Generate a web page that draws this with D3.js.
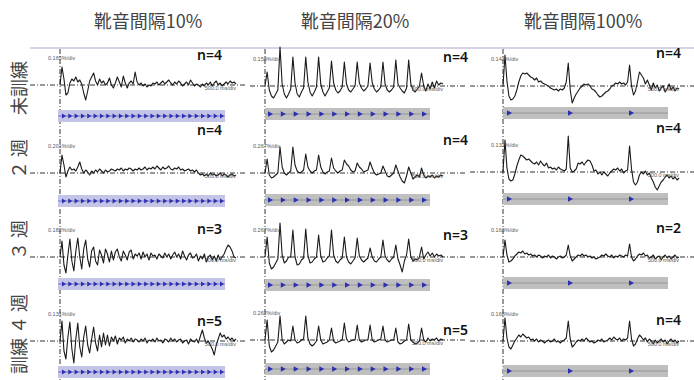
<!DOCTYPE html>
<html>
<head>
<meta charset="utf-8">
<script src="https://cdn.jsdelivr.net/npm/d3@7"></script>
<style>
  body { margin: 0; background: #fff; }
  svg { display: block; font-family: "Noto Sans CJK JP", "Noto Sans", sans-serif; }
</style>
</head>
<body>
<svg id="chart" width="694" height="380"></svg>
<script>
// column / row headings
const columnTitles = ['靴音間隔10%', '靴音間隔20%', '靴音間隔100%'];
const rowTitles = ['未訓練', '２ 週', '３ 週', '訓練 ４ 週'];

// n per panel [row][col]
const nValues = [[4, 4, 4], [4, 4, 4], [3, 3, 2], [5, 5, 4]];

// amplitude scale text per panel [row][col]
const ampLabels = [
  ['0.165%/div', '0.158%/div', '0.143%/div'],
  ['0.201%/div', '0.267%/div', '0.131%/div'],
  ['0.182%/div', '0.267%/div', '0.163%/div'],
  ['0.131%/div', '0.262%/div', '0.168%/div']
];
const timeLabel = '500.0 ms/div';

// number of footstep stimuli per column
const stimCounts = [26, 13, 3];

// averaged responses (relative amplitude, baseline = 0)
const traceR1C1 = [0,18,6,-10,-8,2,6,4,8,3,5,1,-8,-15,-6,4,8,12,4,0,6,2,4,0,2,7,0,-3,2,8,3,-2,9,2,-3,2,4,1,13,3,0,2,-1,1,-2,0,-1,2,1,3,0,2,4,1,3,5,2,0,3,1,4,2,-1,1,3,0,5,2,-1,1,0,-2,1,-1,2,0,3,-1,2,4,0,2,-1,1,3,1,4,2,3,1];
const traceR2C1 = [0,18,8,-4,2,6,3,4,2,6,11,4,0,3,1,-2,2,0,3,1,4,2,0,3,1,2,4,3,2,4,3,5,2,4,3,5,4,2,4,3,5,3,4,6,3,5,4,6,4,7,5,3,6,4,5,7,4,3,5,4,6,3,4,2,3,4,2,3,1,3,0,-2,-1,-3,-1,-3,0,-2,-1,-3,-2,0,-3,-1,-2,-4,-2,-1,-3,-2];
const traceR3C1 = [0,16,-8,-16,2,18,-4,-14,6,19,0,-12,8,17,-2,-10,6,10,-4,-8,7,2,-6,8,3,-5,6,-3,5,8,0,-4,6,2,-3,5,7,-2,3,1,4,-2,5,0,3,-3,4,1,2,-2,3,1,-1,4,0,3,-2,2,5,0,3,-2,6,1,-3,2,4,-1,0,3,-4,1,-2,3,-5,0,2,-3,1,-4,2,-3,0,3,8,12,10,6,0,-1];
const traceR4C1 = [0,20,-10,-18,4,19,-8,-22,2,18,-6,-16,4,15,-4,-12,2,14,-2,-10,6,-6,8,-4,6,-5,4,0,5,-3,3,1,4,-2,2,0,3,-1,2,1,-1,2,0,3,-2,1,0,2,-1,3,0,1,-2,2,1,-1,3,0,2,-1,1,2,-2,0,1,-3,2,0,-1,2,-2,5,11,3,-2,0,-4,-8,-14,-4,2,8,4,6,2,4,1,3,0,2];

const traceR1C2 = [0,14,-4,-10,-12,-8,-4,39,2,-8,-12,-8,-3,29,3,-8,-11,-6,-2,29,4,-6,-10,-6,-1,29,2,-6,-10,-6,-2,25,3,-4,-7,-5,-1,24,2,-4,-6,-3,0,24,3,-2,-5,-3,0,23,3,-3,-6,-4,-1,24,2,-4,-6,-4,-1,26,2,-2,-5,-7,-2,26,2,-4,-6,-3,0,13,0,-5,2,-3,4,-2,5,1,3,2];
const traceR2C2 = [0,14,-2,-5,-4,-2,0,26,6,0,-2,0,2,26,8,2,0,1,3,19,6,2,0,2,3,18,6,1,-1,1,2,15,5,2,0,2,3,13,9,7,3,1,2,10,6,4,1,2,3,11,5,0,-2,-1,0,7,2,-3,-4,-2,0,8,2,-4,-8,-10,-3,6,0,-6,-4,-2,-4,5,-2,-5,-3,-4,-2,-5,-3,-4,-2,-3];
const traceR3C2 = [0,20,-6,-12,-10,-6,-2,34,2,-6,-4,0,0,27,0,-8,-7,-3,-1,28,2,-6,-5,-2,0,22,1,-5,-4,-1,1,27,2,-4,-6,-3,-1,20,0,-5,-7,-4,-1,19,1,-3,-5,-3,-1,9,0,-4,-5,-2,0,17,1,-3,-5,-2,0,12,-2,-8,-15,-4,2,18,0,-4,-2,-3,0,10,-2,2,5,1,4,0,3,1,2,0];
const traceR4C2 = [0,20,-6,-12,-10,-6,-2,24,0,-4,-2,0,-1,14,0,-3,-2,0,1,24,2,-4,-6,-4,-1,14,0,-4,-3,-2,0,12,-1,-3,-2,-1,0,17,1,-2,-1,0,0,15,0,-2,-1,0,0,15,0,-2,-1,0,1,14,0,-2,-1,0,0,12,-2,-4,-3,-1,0,16,0,-2,-4,-3,-1,12,0,-2,2,-1,1,0,2,-1,1,0];

const traceR1C3 = [0,31,5,-10,-14,-13,-10,-4,4,10,13,12,13,11,9,8,6,8,4,5,3,2,1,0,-2,-3,-4,-3,-5,-3,-4,-2,4,23,-4,-17,-12,-8,-5,-2,0,2,1,2,0,-3,-4,-6,-9,-11,-10,-8,-6,-5,-3,0,1,3,2,4,2,3,1,4,21,0,-9,-5,4,14,11,8,2,6,1,-4,3,-2,1,-5,-2,0,-6,-3,2,-4,-1,-5,-2,-3];
const traceR2C3 = [0,32,4,-7,-9,-8,-2,6,12,17,16,14,12,13,11,9,8,10,7,11,8,6,9,4,5,3,4,2,5,3,2,1,3,36,4,0,1,3,9,8,10,7,10,12,11,7,1,2,-2,0,-3,0,-2,-4,-1,1,3,2,4,1,3,-1,1,2,26,3,-10,-13,-10,-3,0,-2,1,-3,-1,-6,-10,-15,-18,-14,-10,-8,-5,-3,-6,-4,-7,-5,-8,-6];
const traceR3C3 = [0,17,2,-5,-4,-2,1,3,5,4,6,3,4,2,3,1,2,0,2,1,-1,1,0,2,-1,1,0,-2,0,1,-1,0,2,12,1,-4,-2,0,2,1,3,1,2,0,1,-1,0,-2,-1,0,2,1,3,1,0,2,-1,1,0,2,1,0,2,1,13,0,-4,-2,1,3,2,4,1,2,-1,0,2,-2,0,1,-3,0,2,-1,1,-2,0,2,-1,0];
const traceR4C3 = [0,23,3,-6,-8,-4,0,3,6,4,7,5,3,4,1,2,0,2,-1,1,0,-2,0,1,-1,0,2,-1,0,-2,0,1,3,20,2,-6,-4,-1,1,0,2,0,3,1,-1,0,-2,-1,1,0,2,-1,0,1,3,1,4,2,1,3,0,2,1,3,20,2,-5,-3,2,6,4,1,3,-1,2,0,-3,1,-2,0,2,-1,1,-3,0,2,-1,1,-2,0];

const traces = [
  [traceR1C1, traceR1C2, traceR1C3],
  [traceR2C1, traceR2C2, traceR2C3],
  [traceR3C1, traceR3C2, traceR3C3],
  [traceR4C1, traceR4C2, traceR4C3]
];

// layout
const cols = [
  { left: 30, right: 246, zero: 60, end: 236, stim0: 62, stim1: 220, barL: 58, barR: 225, title: 148, nX: 197,
    barFill: '#c4c4e6', barLine: '#6a6ac0', tri: 'M0,-2.4L4,0L0,2.4Z' },
  { left: 250, right: 466, zero: 265, end: 443, stim0: 268, stim1: 422, barL: 265, barR: 430, title: 355, nX: 443,
    barFill: '#bfbfbf', barLine: '#8e8e8e', tri: 'M0,-2.8L5,0L0,2.8Z' },
  { left: 470, right: 694, zero: 503, end: 679, stim0: 507, stim1: 629, barL: 503, barR: 668, title: 583, nX: 656,
    barFill: '#bfbfbf', barLine: '#8e8e8e', tri: 'M0,-2.8L5,0L0,2.8Z' }
];
const rows = [
  { base: [85, 86, 86], bar: [110, 108, 107], nY: [60, 62, 58], label: 88 },
  { base: [173, 173, 172], bar: [195, 194, 193], nY: [135, 145, 133], label: 159 },
  { base: [257, 257, 257], bar: [278, 279, 277], nY: [234, 240, 233], label: 240 },
  { base: [341, 340, 341], bar: [366, 363, 365], nY: [326, 335, 325], label: 334 }
];
const barH = 12;

const svg = d3.select('#chart');

// headings
svg.selectAll('.col-title')
  .data(columnTitles)
  .join('text')
  .attr('class', 'col-title')
  .attr('x', (d, i) => cols[i].title)
  .attr('y', 28)
  .attr('text-anchor', 'middle')
  .style('font-size', '18px')
  .style('fill', '#444')
  .text(d => d);

svg.selectAll('.row-title')
  .data(rowTitles)
  .join('text')
  .attr('class', 'row-title')
  .attr('transform', (d, i) => `translate(18,${rows[i].label}) rotate(-90)`)
  .attr('text-anchor', 'middle')
  .attr('dominant-baseline', 'central')
  .style('font-size', '18px')
  .style('fill', '#444')
  .text(d => d);

// top rule
svg.append('line')
  .attr('x1', 30).attr('x2', 694)
  .attr('y1', 48).attr('y2', 48)
  .attr('stroke', '#c9c3db')
  .attr('stroke-width', 1.5);

const dashDot = '5,2,1,2';

// vertical zero-time lines
cols.forEach(c => {
  svg.append('line')
    .attr('x1', c.zero).attr('x2', c.zero)
    .attr('y1', 49).attr('y2', 380)
    .attr('stroke', '#333')
    .attr('stroke-width', 1)
    .attr('stroke-dasharray', dashDot);
});

rows.forEach((r, ri) => {
  cols.forEach((c, ci) => {
    const data = traces[ri][ci];
    const base = r.base[ci];
    const g = svg.append('g');

    const x = d3.scaleLinear().domain([0, data.length - 1]).range([c.zero, c.end]);
    const y = d3.scaleLinear().domain([-40, 40]).range([base + 40, base - 40]);

    // baseline
    g.append('line')
      .attr('x1', c.left).attr('x2', c.right)
      .attr('y1', y(0)).attr('y2', y(0))
      .attr('stroke', '#333')
      .attr('stroke-width', 1)
      .attr('stroke-dasharray', dashDot);

    // stimulus bar
    const barY = r.bar[ci];
    g.append('rect')
      .attr('x', c.barL).attr('y', barY)
      .attr('width', c.barR - c.barL).attr('height', barH)
      .attr('fill', c.barFill);
    g.append('line')
      .attr('x1', c.barL).attr('x2', c.barR)
      .attr('y1', barY + barH / 2).attr('y2', barY + barH / 2)
      .attr('stroke', c.barLine)
      .attr('stroke-width', 0.8);

    const sx = d3.scaleLinear().domain([0, stimCounts[ci] - 1]).range([c.stim0, c.stim1]);
    g.selectAll('.stim')
      .data(d3.range(stimCounts[ci]))
      .join('path')
      .attr('class', 'stim')
      .attr('d', c.tri)
      .attr('transform', d => `translate(${sx(d)},${barY + barH / 2})`)
      .attr('fill', '#2b2fb0');

    // response trace
    g.append('path')
      .datum(data)
      .attr('fill', 'none')
      .attr('stroke', '#1a1a1a')
      .attr('stroke-width', 1.1)
      .attr('stroke-linejoin', 'round')
      .attr('d', d3.line().x((d, i) => x(i)).y(d => y(d)));

    // scale texts
    g.append('text')
      .attr('x', c.zero - 12)
      .attr('y', y(25))
      .style('font-family', 'Liberation Sans, sans-serif')
      .style('font-size', '5.5px')
      .style('fill', '#555')
      .text(ampLabels[ri][ci]);
    g.append('text')
      .attr('x', c.end)
      .attr('y', y(-5))
      .attr('text-anchor', 'end')
      .style('font-family', 'Liberation Sans, sans-serif')
      .style('font-size', '5.5px')
      .style('fill', '#555')
      .text(timeLabel);

    // n label
    g.append('text')
      .attr('x', c.nX)
      .attr('y', r.nY[ci])
      .style('font-family', 'Noto Sans, sans-serif')
      .style('font-size', '14px')
      .style('font-weight', '600')
      .style('fill', '#111')
      .text(`n=${nValues[ri][ci]}`);
  });
});
</script>
</body>
</html>
